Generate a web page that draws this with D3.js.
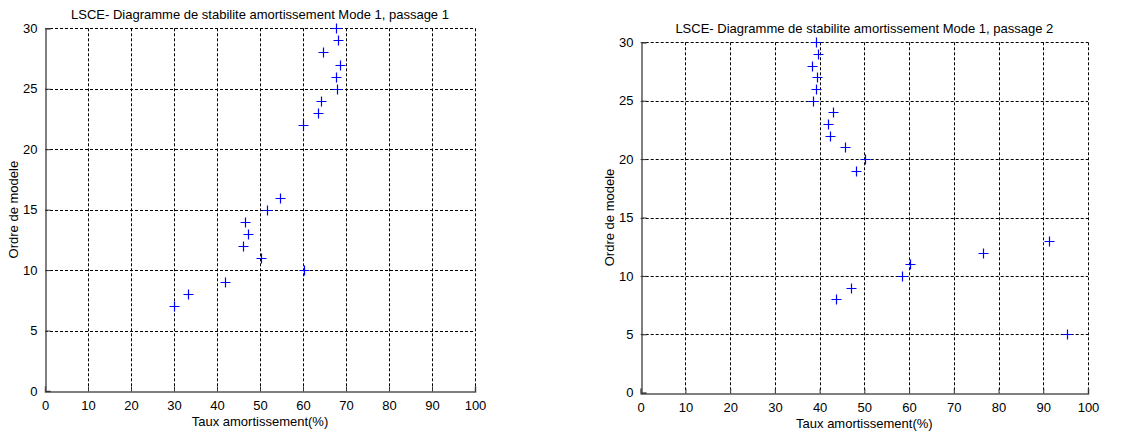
<!DOCTYPE html>
<html>
<head>
    <meta charset="utf-8">
    <style>
        body {
            margin: 0;
            background-color: #FFF;
        }
        svg text {
            font-family: "Liberation Sans", Arial, sans-serif;
            fill: #000;
        }
    </style>
</head>
<body>
<div id="chartArea"></div>
<script src="https://cdnjs.cloudflare.com/ajax/libs/d3/7.8.5/d3.min.js"></script>

<script>
    /* -----------------------------------
        data
    ----------------------------------- */
    var xTicks = [0, 10, 20, 30, 40, 50, 60, 70, 80, 90, 100];
    var yTicks = [0, 5, 10, 15, 20, 25, 30];

    // passage 1 : model order / damping rate (%)
    var ordre1 = [30, 29, 28, 27, 26, 25, 24, 23, 22, 16, 15, 14, 13, 12, 11, 10, 9, 8, 7];
    var taux1  = [67.6, 68.2, 64.7, 68.6, 67.6, 68.0, 64.1, 63.4, 59.9, 54.7, 51.6, 46.6, 47.3, 46.0, 50.3, 60.3, 41.8, 33.3, 29.9];

    // passage 2
    var ordre2 = [30, 29, 28, 27, 26, 25, 24, 23, 22, 21, 20, 19, 13, 12, 11, 10, 9, 8, 5];
    var taux2  = [39.2, 39.6, 38.2, 39.4, 39.2, 38.5, 42.9, 41.8, 42.4, 45.7, 50.2, 48.1, 91.3, 76.6, 60.2, 58.5, 47.1, 43.6, 95.4];

    var titre1 = "LSCE- Diagramme de stabilite amortissement Mode 1, passage 1";
    var titre2 = "LSCE- Diagramme de stabilite amortissement Mode 1, passage 2";
    var xLabel = "Taux amortissement(%)";
    var yLabel = "Ordre de modele";

    /* -----------------------------------
        initialize
    ----------------------------------- */
    var width = 1146, height = 433;

    var svg = d3.select("#chartArea").append("svg")
        .attr("width", width)
        .attr("height", height);

    var drawPanel = function(p) {
        var x = d3.scaleLinear().domain([0, 100]).range([p.left, p.right]);
        var y = d3.scaleLinear().domain([0, 30]).range([p.bottom, p.top]);
        var g = svg.append("g");

        // grid (dashed)
        g.selectAll(".vgrid").data(xTicks.slice(1)).enter().append("line")
            .attr("x1", function(d) { return Math.round(x(d)) + 0.5; })
            .attr("x2", function(d) { return Math.round(x(d)) + 0.5; })
            .attr("y1", p.top).attr("y2", p.bottom)
            .attr("stroke", "#000").attr("stroke-dasharray", "3,2");
        g.selectAll(".hgrid").data(yTicks.slice(1)).enter().append("line")
            .attr("y1", function(d) { return Math.round(y(d)) + 0.5; })
            .attr("y2", function(d) { return Math.round(y(d)) + 0.5; })
            .attr("x1", p.left).attr("x2", p.right)
            .attr("stroke", "#000").attr("stroke-dasharray", "3,2");

        // axes
        var xAxis = d3.axisBottom(x).tickValues(xTicks).tickSize(-5).tickPadding(9);
        var yAxis = d3.axisLeft(y).tickValues(yTicks).tickSize(-5).tickPadding(8);

        var gx = g.append("g")
            .attr("transform", "translate(0," + (Math.round(p.bottom) + 0.5) + ")")
            .call(xAxis);
        var gy = g.append("g")
            .attr("transform", "translate(" + (Math.round(p.left) + 0.5) + ",0)")
            .call(yAxis);
        [gx, gy].forEach(function(a) {
            a.select(".domain").attr("stroke", "#555").attr("stroke-width", 1.5);
            a.selectAll(".tick line").attr("stroke", "#333");
            a.selectAll("text").attr("font-size", 13).attr("font-family", "Liberation Sans, Arial, sans-serif");
        });

        // markers
        var pts = p.taux.map(function(t, i) { return [t, p.ordre[i]]; });
        var s = 5;
        g.selectAll(".pt").data(pts).enter().append("path")
            .attr("d", function(d) {
                var cx = Math.round(x(d[0])) + 0.5, cy = Math.round(y(d[1])) + 0.5;
                return "M" + (cx - s) + "," + cy + "H" + (cx + s) + "M" + cx + "," + (cy - s) + "V" + (cy + s);
            })
            .attr("stroke", "#0000FF").attr("stroke-width", 1.2).attr("fill", "none");

        // texts
        g.append("text")
            .attr("x", (p.left + p.right) / 2).attr("y", p.top - 9)
            .attr("text-anchor", "middle").attr("font-size", 13)
            .text(p.titre);
        g.append("text")
            .attr("x", (p.left + p.right) / 2).attr("y", p.bottom + 35)
            .attr("text-anchor", "middle").attr("font-size", 13)
            .text(xLabel);
        g.append("text")
            .attr("transform", "translate(" + (p.left - 27) + "," + ((p.top + p.bottom) / 2) + ") rotate(-90)")
            .attr("text-anchor", "middle").attr("font-size", 13)
            .text(yLabel);
    };

    drawPanel({left: 45, right: 475, top: 28.3, bottom: 391, taux: taux1, ordre: ordre1, titre: titre1});
    drawPanel({left: 640.7, right: 1088, top: 42.3, bottom: 392.7, taux: taux2, ordre: ordre2, titre: titre2});
</script>
</body>
</html>
